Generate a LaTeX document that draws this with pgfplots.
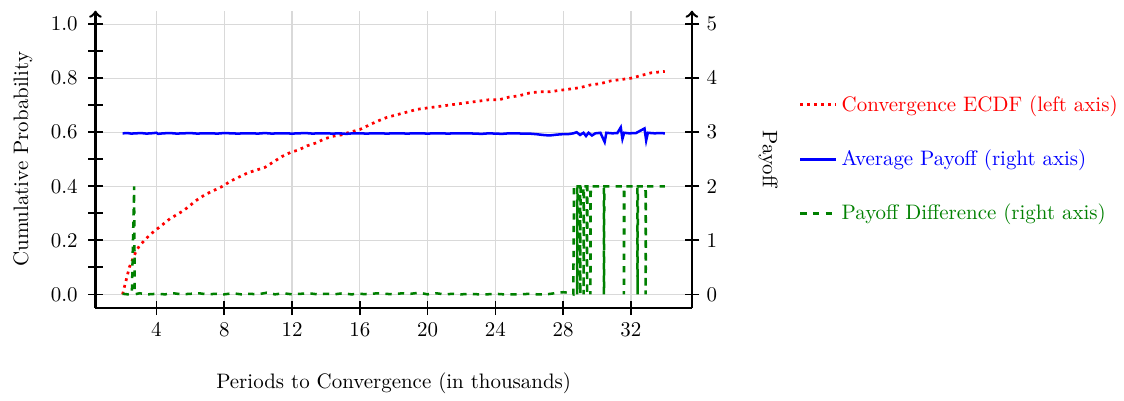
\documentclass[border={3pt 0pt -2pt 4.5pt}]{standalone}
\usepackage{pgfplots}
\pgfplotsset{compat=1.18}
\definecolor{dgreen}{RGB}{0,128,0}
\pgfplotstableread{
x y
2.0 0.00
2.2 0.05
2.4 0.10
2.6 0.13
2.8 0.16
3.0 0.18
3.3 0.20
3.6 0.22
4.0 0.24
4.4 0.26
4.8 0.28
5.2 0.295
5.6 0.31
6.0 0.33
6.4 0.35
6.9 0.37
7.4 0.385
7.9 0.40
8.4 0.42
8.9 0.435
9.4 0.45
9.9 0.46
10.4 0.47
10.9 0.49
11.4 0.51
11.9 0.525
12.4 0.535
12.9 0.55
13.4 0.56
13.9 0.575
14.4 0.585
14.9 0.59
15.4 0.60
16.0 0.61
16.5 0.625
17.0 0.64
17.6 0.655
18.2 0.665
18.8 0.675
19.4 0.685
20.0 0.69
20.6 0.695
21.2 0.70
21.8 0.705
22.4 0.71
23.0 0.715
23.6 0.72
24.2 0.72
24.8 0.73
25.4 0.735
26.0 0.745
26.6 0.75
27.2 0.75
27.8 0.755
28.4 0.76
29.0 0.765
29.6 0.775
30.2 0.78
30.8 0.79
31.4 0.795
32.0 0.80
32.6 0.81
33.2 0.82
34.0 0.825
}\ecdf
\pgfplotstableread{
x y
2.0 2.98
2.3 2.985
2.5 2.975
2.8 2.98
3.1 2.985
3.4 2.975
3.7 2.98
4.0 2.99
4.1 2.97
4.4 2.98
4.8 2.985
5.2 2.975
5.6 2.98
6.0 2.985
6.4 2.975
6.8 2.98
7.2 2.98
7.6 2.975
8.0 2.985
8.4 2.98
8.8 2.975
9.2 2.98
9.6 2.98
10.0 2.975
10.4 2.985
10.8 2.975
11.2 2.98
11.6 2.98
12.0 2.975
12.4 2.98
12.8 2.985
13.2 2.975
13.6 2.98
14.0 2.98
14.4 2.975
14.8 2.98
15.2 2.97
15.6 2.98
16.0 2.98
16.4 2.975
16.8 2.98
17.2 2.98
17.6 2.975
18.0 2.98
18.4 2.98
18.8 2.975
19.2 2.98
19.6 2.98
20.0 2.975
20.4 2.98
20.8 2.98
21.2 2.975
21.6 2.98
22.0 2.98
22.4 2.98
22.8 2.975
23.2 2.97
23.6 2.98
24.0 2.975
24.4 2.97
24.8 2.98
25.2 2.98
25.6 2.975
26.0 2.975
26.4 2.965
26.8 2.95
27.2 2.94
27.6 2.955
28.0 2.965
28.3 2.965
28.6 2.98
28.8 3.00
29.0 2.95
29.2 2.99
29.35 2.93
29.5 2.99
29.7 2.94
29.9 2.98
30.2 2.99
30.45 2.82
30.55 2.99
30.9 2.98
31.2 2.985
31.4 3.09
31.5 2.88
31.6 2.99
31.9 2.98
32.3 2.985
32.8 3.07
32.9 2.85
33.0 2.99
33.4 2.98
33.7 2.985
34.0 2.98
}\avgpay
\pgfplotstableread{
x y
2.0 0.01
2.3 0.0
2.55 0.01
2.68 2.0
2.72 0.0
3.0 0.02
3.5 0.0
4.0 0.01
4.5 0.0
5.0 0.02
5.5 0.0
6.0 0.01
6.5 0.02
7.0 0.0
7.5 0.01
8.0 0.0
8.5 0.02
9.0 0.0
9.5 0.01
10.0 0.0
10.5 0.03
11.0 0.0
11.5 0.02
12.0 0.0
12.5 0.01
13.0 0.02
13.5 0.0
14.0 0.01
14.5 0.0
15.0 0.02
15.5 0.0
16.0 0.01
16.5 0.0
17.0 0.02
17.5 0.01
18.0 0.0
18.5 0.02
19.0 0.01
19.5 0.03
20.0 0.0
20.5 0.02
21.0 0.0
21.5 0.01
22.0 0.0
22.5 0.01
23.0 0.0
23.5 0.0
24.0 0.01
24.5 0.0
25.0 0.0
25.5 0.0
26.0 0.01
26.5 0.0
27.0 0.0
27.5 0.02
28.0 0.04
28.3 0.03
28.6 0.0
28.64 2.0
28.82 2.0
28.83 0.0
28.85 2.0
29.0 2.0
29.01 0.0
29.03 2.0
29.2 2.0
29.21 0.0
29.23 2.0
29.4 2.0
29.41 0.0
29.43 2.0
29.6 2.0
29.61 0.0
29.63 2.0
30.4 2.0
30.41 0.0
30.43 2.0
31.58 2.0
31.59 0.0
31.62 2.0
32.38 2.0
32.39 0.0
32.41 2.0
32.86 2.0
32.87 0.0
32.89 2.0
34.0 2.0
}\paydiff
\begin{document}
\begin{tikzpicture}
\begin{axis}[
  scale only axis, width=285pt, height=142pt,
  xmin=0.4, xmax=35.6, ymin=-0.05, ymax=1.05,
  axis y line*=left, axis x line*=bottom,
  xtick={4,8,12,16,20,24,28,32},
  ytick={0,0.2,0.4,0.6,0.8,1.0},
  minor ytick={0.1,0.3,0.5,0.7,0.9},
  yticklabel style={xshift=-1.5pt, /pgf/number format/.cd, fixed, fixed zerofill, precision=1},
  grid=major, grid style={gray!30, line width=0.6pt},
  tick align=center, major tick length=7pt, minor tick length=7pt,
  tick style={black, line width=0.8pt},
  axis line style={line width=1.2pt},
  y axis line style={->}, x axis line style={-},
  xlabel={Periods to Convergence (in thousands)},
  ylabel={Cumulative Probability},
  xlabel shift=10.5pt,
  ylabel shift=2pt,
]
\addplot[red, dotted, line width=1.3pt] table[x=x,y=y] {\ecdf};
\end{axis}
\begin{axis}[
  scale only axis, width=285pt, height=142pt,
  xmin=0.4, xmax=35.6, ymin=-0.25, ymax=5.25,
  axis y line*=right, axis x line=none,
  ytick={0,1,2,3,4,5},
  tick align=center, major tick length=7pt,
  tick style={black, line width=0.8pt},
  axis line style={line width=1.2pt},
  y axis line style={->},
  ylabel={Payoff},
  ylabel style={rotate=180},
  ylabel shift=13pt,
  legend style={at={(rel axis cs:1,0.5)}, anchor=west, xshift=48pt, draw=none, fill=none, row sep=13pt},
  legend cell align=left,
]
\addlegendimage{red, dotted, line width=1.3pt}
\addlegendentry{\textcolor{red}{Convergence ECDF (left axis)}}
\addplot[blue, line width=1.2pt] table[x=x,y=y] {\avgpay};
\addlegendentry{\textcolor{blue}{Average Payoff (right axis)}}
\addplot[dgreen, dashed, line width=1.2pt] table[x=x,y=y] {\paydiff};
\addlegendentry{\textcolor{dgreen}{Payoff Difference (right axis)}}
\end{axis}
\end{tikzpicture}
\end{document}
